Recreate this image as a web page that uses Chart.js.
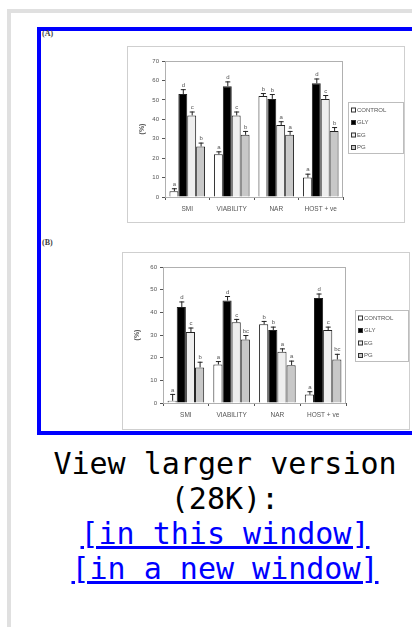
<!DOCTYPE html>
<html lang="en">
<head>
<meta charset="UTF-8">
<title>Figure</title>
<script src="https://cdn.jsdelivr.net/npm/chart.js"></script>
<style>
  html, body { margin: 0; padding: 0; background: #fff; width: 412px; height: 627px; overflow: hidden; }
  #edge { position: absolute; left: 7px; top: 9px; width: 600px; height: 700px;
          border-left: 4px solid #e0e0e0; border-top: 4px solid #e0e0e0; }
  #fig { position: absolute; left: 37px; top: 27px; width: 420px; height: 400px;
         border: 4px solid #0000ff; background: #fff; }
  .tag { position: absolute; font: bold 8px "Liberation Serif", serif; color: #444; }
  .frame { position: absolute; border: 1px solid #cfcfcf; background: #fff; }
  .frame canvas { position: absolute; left: 0; top: 0; filter: blur(0.35px); }
  #caption { position: absolute; left: 37px; top: 446px; width: 376px; text-align: center;
             font: 30px "DejaVu Sans Mono", monospace; line-height: 35px; color: #000; }
  #caption a { color: #0000ff; }
</style>
</head>
<body>
<div id="edge"></div>
<div id="fig"></div>
<div class="tag" style="left:42px; top:29px;">(A)</div>
<div class="tag" style="left:42px; top:238px;">(B)</div>

<div class="frame" style="left:127px; top:46px; width:276px; height:175px;">
  <canvas id="chartA" width="276" height="175"></canvas>
</div>
<div class="frame" style="left:122px; top:252px; width:286px; height:176px;">
  <canvas id="chartB" width="286" height="176"></canvas>
</div>

<div id="caption">View larger version<br>(28K):<br><a href="#">[in this window]</a><br><a href="#">[in a new window]</a></div>

<script>
const categories = ['SMI', 'VIABILITY', 'NAR', 'HOST + ve'];
const seriesNames = ['CONTROL', 'GLY', 'EG', 'PG'];

// panel A (%)
const controlA = [3, 22, 52, 10];
const glyA = [53, 57, 50.5, 58.5];
const egA = [42, 42, 37, 50.5];
const pgA = [26, 32, 32, 34];
const controlErrA = [1.5, 1.5, 1.5, 2];
const glyErrA = [2.5, 2.5, 2.5, 2.5];
const egErrA = [2, 2, 2, 2];
const pgErrA = [2, 2, 2, 2];
const controlLetA = ['a', 'a', 'b', 'a'];
const glyLetA = ['d', 'd', 'b', 'd'];
const egLetA = ['c', 'c', 'a', 'c'];
const pgLetA = ['b', 'b', 'a', 'b'];

// panel B (%)
const controlB = [1, 17, 34.7, 3.7];
const glyB = [42.3, 45.2, 32.2, 46.3];
const egB = [31.3, 35.6, 22.6, 32.2];
const pgB = [15.7, 28, 16.7, 19.2];
const controlErrB = [3, 1.5, 1.5, 1.5];
const glyErrB = [2.5, 2, 1.5, 2];
const egErrB = [2, 1.5, 1.5, 1.5];
const pgErrB = [2.5, 2, 2, 2.5];
const controlLetB = ['a', 'a', 'b', 'a'];
const glyLetB = ['d', 'd', 'b', 'd'];
const egLetB = ['c', 'c', 'a', 'c'];
const pgLetB = ['b', 'bc', 'a', 'bc'];

const fills = ['#ffffff', '#000000', '#eeeeee', '#c8c8c8'];

// plot box, error bars, letters and the boxed legend
const extras = {
  id: 'extras',
  beforeDatasetsDraw(chart) {
    const a = chart.chartArea, c = chart.ctx;
    c.save();
    c.strokeStyle = '#b0b0b0';
    c.lineWidth = 1;
    c.strokeRect(a.left + 0.5, a.top + 0.5, a.right - a.left - 1, a.bottom - a.top);
    c.restore();
  },
  afterDatasetsDraw(chart, args, opts) {
    const c = chart.ctx, y = chart.scales.y;
    c.save();
    chart.data.datasets.forEach((ds, i) => {
      chart.getDatasetMeta(i).data.forEach((bar, j) => {
        const top = y.getPixelForValue(ds.data[j] + ds.err[j]);
        c.strokeStyle = '#222';
        c.lineWidth = 1;
        c.beginPath();
        c.moveTo(bar.x + 0.5, bar.y);
        c.lineTo(bar.x + 0.5, top);
        c.moveTo(bar.x - 2, top + 0.5);
        c.lineTo(bar.x + 3, top + 0.5);
        c.stroke();
        c.fillStyle = '#555';
        c.font = '6px "Liberation Sans"';
        c.textAlign = 'center';
        c.textBaseline = 'bottom';
        c.fillText(ds.letters[j], bar.x + 0.5, top - 1);
      });
    });
    // legend
    const L = opts.box;
    c.strokeStyle = '#bdbdbd';
    c.strokeRect(L.x + 0.5, L.y + 0.5, L.w, L.h);
    chart.data.datasets.forEach((ds, i) => {
      const yy = L.y + 8 + i * 12.5;
      c.fillStyle = ds.backgroundColor;
      c.fillRect(L.x + 3, yy - 2.5, 5, 5);
      c.strokeStyle = '#333';
      c.strokeRect(L.x + 3.5, yy - 2, 4, 4);
      c.fillStyle = '#555';
      c.font = '6px "Liberation Sans"';
      c.textAlign = 'left';
      c.textBaseline = 'middle';
      c.fillText(ds.label, L.x + 9, yy);
    });
    c.restore();
  }
};

function makeChart(id, vals, errs, lets, yMax, yWidth, pad, box) {
  new Chart(document.getElementById(id), {
    type: 'bar',
    data: {
      labels: categories,
      datasets: seriesNames.map((name, i) => ({
        label: name,
        data: vals[i],
        err: errs[i],
        letters: lets[i],
        backgroundColor: fills[i],
        borderColor: '#222',
        borderWidth: 1,
        borderSkipped: 'bottom',
        categoryPercentage: 0.8,
        barPercentage: 1.0
      }))
    },
    options: {
      responsive: false,
      animation: false,
      events: [],
      layout: { padding: pad },
      plugins: { legend: { display: false }, tooltip: { enabled: false }, extras: { box: box } },
      scales: {
        x: {
          grid: { drawOnChartArea: false, tickLength: 3, color: '#555' },
          border: { color: '#555' },
          ticks: { padding: 5, color: '#555', font: { family: 'Liberation Sans', size: 6.5 } },
          afterFit: s => { s.height = pad.bottomAxis; }
        },
        y: {
          min: 0,
          max: yMax,
          ticks: { stepSize: 10, padding: 3, color: '#555', font: { family: 'Liberation Sans', size: 6 } },
          grid: { drawOnChartArea: false, tickLength: 3, color: '#555' },
          border: { color: '#555' },
          title: { display: true, text: '(%)', color: '#555', padding: { top: 10, bottom: 0 },
                   font: { family: 'Liberation Sans', size: 7, weight: 'bold' } },
          afterFit: s => { s.width = yWidth; }
        }
      }
    },
    plugins: [extras]
  });
}

makeChart('chartA',
  [controlA, glyA, egA, pgA],
  [controlErrA, glyErrA, egErrA, pgErrA],
  [controlLetA, glyLetA, egLetA, pgLetA],
  70, 37,
  { left: 0, top: 14, right: 61, bottom: 0, bottomAxis: 25 },
  { x: 220, y: 55, w: 55, h: 51 });

makeChart('chartB',
  [controlB, glyB, egB, pgB],
  [controlErrB, glyErrB, egErrB, pgErrB],
  [controlLetB, glyLetB, egLetB, pgLetB],
  60, 40,
  { left: 0, top: 14, right: 63, bottom: 0, bottomAxis: 26 },
  { x: 232, y: 57, w: 53, h: 51 });
</script>
</body>
</html>
